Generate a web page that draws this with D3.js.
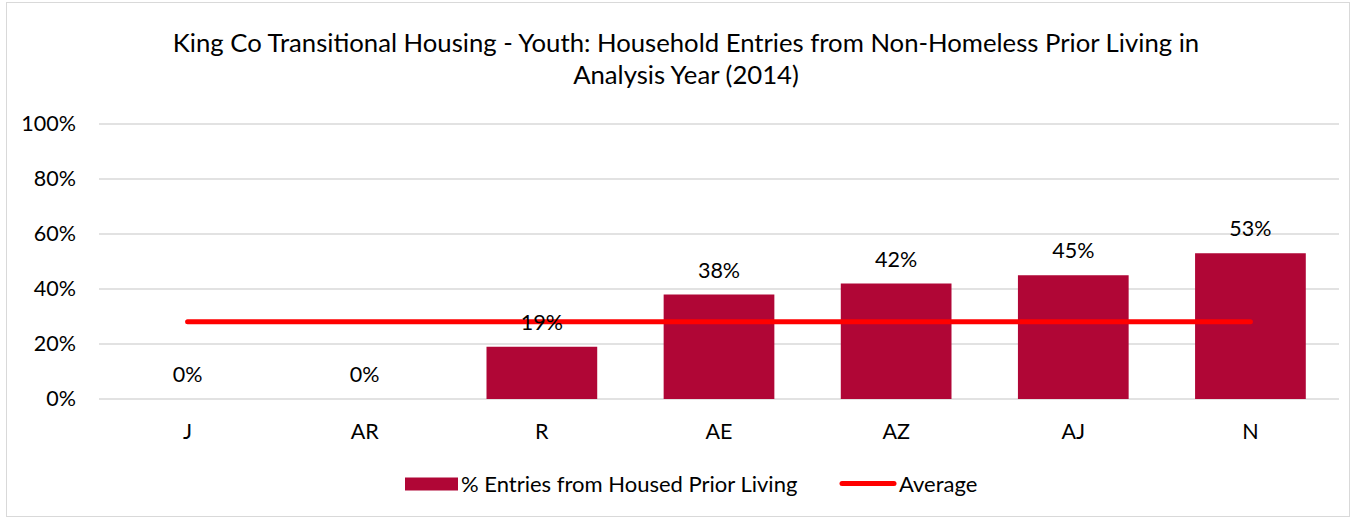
<!DOCTYPE html>
<html>
<head>
<meta charset="utf-8">
<script src="https://cdn.jsdelivr.net/npm/d3@7"></script>
<style>
  body { margin: 0; background: #fff; }
  svg text { font-family: Lato, "Open Sans", sans-serif; fill: #000; }
</style>
</head>
<body>
<div id="chart"></div>
<script>
// chart data
var categories = ["J", "AR", "R", "AE", "AZ", "AJ", "N"];
var entryPct = [0, 0, 19, 38, 42, 45, 53];
var averagePct = [28.1, 28.1, 28.1, 28.1, 28.1, 28.1, 28.1];
var yTicks = [0, 20, 40, 60, 80, 100];
var titleLines = ["King Co Transitional Housing - Youth: Household Entries from Non-Homeless Prior Living in",
                  "Analysis Year (2014)"];

var W = 1352, H = 519;
var margin = {top: 124, right: 13, bottom: 120, left: 99};
var w = W - margin.left - margin.right,
    h = H - margin.top - margin.bottom;

var svg = d3.select("#chart").append("svg")
  .attr("width", W)
  .attr("height", H);

// outer frame
svg.append("rect")
  .attr("x", 6.5).attr("y", 2.5)
  .attr("width", W - 9).attr("height", H - 5)
  .attr("fill", "#fff")
  .attr("stroke", "#d9d9d9");

// title
svg.append("text")
  .attr("text-anchor", "middle")
  .style("font-size", "25.7px")
  .selectAll("tspan")
  .data(titleLines)
  .enter().append("tspan")
  .attr("x", 686)
  .attr("y", function(d, i) { return 52 + i * 32; })
  .text(function(d) { return d; });

var g = svg.append("g")
  .attr("transform", "translate(" + margin.left + "," + margin.top + ")");

var x = d3.scaleBand().domain(categories).range([0, w]).paddingInner(0.375).paddingOuter(0.1875);
var xc = d3.scaleBand().domain(categories).range([0, w]);
var y = d3.scaleLinear().domain([0, 100]).range([h, 0]);

// gridlines
g.selectAll(".grid")
  .data(yTicks)
  .enter().append("line")
  .attr("x1", 0).attr("x2", w)
  .attr("y1", function(d) { return y(d); })
  .attr("y2", function(d) { return y(d); })
  .attr("stroke", "#d9d9d9")
  .attr("stroke-width", 1.5);

// y axis labels
var yAxis = g.append("g")
  .call(d3.axisLeft(y).tickValues(yTicks).tickSize(0).tickPadding(23)
    .tickFormat(function(d) { return d + "%"; }));
yAxis.select(".domain").remove();
yAxis.selectAll("text").style("font-size", "21.5px").style("font-family", "Lato, sans-serif");

// x axis labels
var xAxis = g.append("g")
  .attr("transform", "translate(0," + h + ")")
  .call(d3.axisBottom(xc).tickSize(0).tickPadding(25));
xAxis.select(".domain").remove();
xAxis.selectAll("text").style("font-size", "21.5px").style("font-family", "Lato, sans-serif");

// bars
g.selectAll(".bar")
  .data(entryPct)
  .enter().append("rect")
  .attr("class", "bar")
  .attr("x", function(d, i) { return x(categories[i]); })
  .attr("width", x.bandwidth())
  .attr("y", function(d) { return y(d); })
  .attr("height", function(d) { return h - y(d); })
  .attr("fill", "#b00636");

// average line
var line = d3.line()
  .x(function(d, i) { return xc(categories[i]) + xc.bandwidth() / 2; })
  .y(function(d) { return y(d); });

g.append("path")
  .datum(averagePct)
  .attr("d", line)
  .attr("fill", "none")
  .attr("stroke", "#ff0000")
  .attr("stroke-width", 5)
  .attr("stroke-linecap", "round");

// value labels
g.selectAll(".lbl")
  .data(entryPct)
  .enter().append("text")
  .attr("text-anchor", "middle")
  .attr("x", function(d, i) { return xc(categories[i]) + xc.bandwidth() / 2; })
  .attr("y", function(d) { return y(d) - 17; })
  .style("font-size", "21.5px")
  .text(function(d) { return d + "%"; });

// legend
var leg = svg.append("g");
leg.append("rect")
  .attr("x", 405).attr("y", 477.5)
  .attr("width", 53).attr("height", 13)
  .attr("fill", "#b00636");
leg.append("text")
  .attr("x", 461).attr("y", 491.5)
  .style("font-size", "22px")
  .text("% Entries from Housed Prior Living");
leg.append("line")
  .attr("x1", 842).attr("x2", 894)
  .attr("y1", 483.5).attr("y2", 483.5)
  .attr("stroke", "#ff0000")
  .attr("stroke-width", 5)
  .attr("stroke-linecap", "round");
leg.append("text")
  .attr("x", 899).attr("y", 491.5)
  .style("font-size", "22px")
  .text("Average");
</script>
</body>
</html>
